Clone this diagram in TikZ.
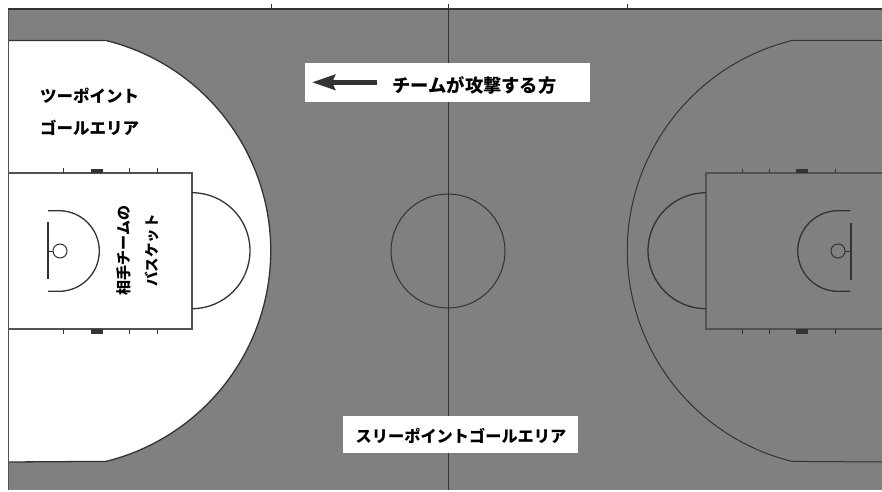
\documentclass[tikz,border=0pt]{standalone}
\usepackage{fontspec}
\usetikzlibrary{arrows.meta}
\newfontfamily\jpfont{Noto Sans CJK JP}
\definecolor{courtgrey}{HTML}{808080}
\definecolor{courtline}{HTML}{333333}
\tikzset{
  line/.style={draw=courtline,line width=1pt},
  arcline/.style={draw=courtline,line width=1.3pt},
  keyline/.style={draw=courtline!85!white,line width=1.4pt},
  thickline/.style={draw=courtline,line width=2pt},
  label/.style={inner sep=0pt,font=\jpfont\bfseries\fontsize{#1}{#1}\selectfont,text=black},
  whitebox/.style={fill=white,draw=none}
}
\begin{document}
\begin{tikzpicture}[x=1pt,y=1pt]
\useasboundingbox (0,0) rectangle (882,491);
\fill[white] (0,0) rectangle (882,491);
\fill[courtgrey] (8.5,1) rectangle (882,481.5);
% two point area
\fill[white] (8.5,450.5)--(106,450.5) arc[start angle=76.1,end angle=-76.1,radius=216.8pt]--(8.5,29)--cycle;
\draw[arcline] (8.5,450.5)--(106,450.5) arc[start angle=76.1,end angle=-76.1,radius=216.8pt]--(8.5,29);
\draw[line] (882,450.5)--(792,450.5) arc[start angle=103.9,end angle=256.1,radius=216.8pt]--(882,29);
% outer lines
\draw[keyline] (8.5,1)--(8.5,481.5);
\draw[thickline] (7.5,481.5)--(882,481.5);
\draw[line] (271,481.5)--(271,487);
\draw[line] (627,481.5)--(627,487);
\draw[line] (448,1)--(448,487);
\draw[line] (448,240) circle[radius=57pt];
% left key
\draw[keyline,fill=white] (9,318)--(192,318)--(192,162)--(9,162);
\draw[arcline] (192,298.3) arc[start angle=90,end angle=-90,radius=58pt];
\draw[arcline] (48,280.3)--(59,280.3) arc[start angle=90,end angle=-90,radius=40.3pt]--(48,199.7);
\draw[thickline] (47.5,269)--(47.5,212);
\draw[line] (47.5,240)--(53,240);
\draw[line] (60,240) circle[radius=7pt];
\draw[line] (63,318)--(63,323);
\draw[line] (129,318)--(129,323);
\draw[line] (157,318)--(157,323);
\draw[line] (63,162)--(63,157);
\draw[line] (129,162)--(129,157);
\draw[line] (157,162)--(157,157);
\fill[courtline] (91,318) rectangle (103,322.5);
\fill[courtline] (91,162) rectangle (103,157.5);
% right key
\draw[keyline] (882,318)--(706,318)--(706,162)--(882,162);
\draw[arcline] (706,298.3) arc[start angle=90,end angle=270,radius=58pt];
\draw[arcline] (850,280.3)--(838,280.3) arc[start angle=90,end angle=270,radius=40.3pt]--(850,199.7);
\draw[thickline] (851,268.5)--(851,211.5);
\draw[line] (851,240)--(845,240);
\draw[line] (838,240) circle[radius=7pt];
\draw[line] (742,318)--(742,322.5);
\draw[line] (769,318)--(769,322.5);
\draw[line] (835,318)--(835,322.5);
\draw[line] (742,162)--(742,157.5);
\draw[line] (769,162)--(769,157.5);
\draw[line] (835,162)--(835,157.5);
\fill[courtline] (796,318) rectangle (808,322.5);
\fill[courtline] (796,162) rectangle (808,157.5);
% labels
\fill[whitebox] (305,389.3) rectangle (590,428.3);
\fill[whitebox] (343,38) rectangle (578,75);
\coordinate (arrowstart) at (377,408.7);
\coordinate (arrowend) at (312,408.7);
\draw[-{Stealth[length=23pt,width=15pt,inset=3pt]},draw=courtline,line width=5pt] (arrowstart)--(arrowend);
\node[label=18.3] (attack) at (474.5,406) {チームが攻撃する方};
\node[label=16.2] (three) at (461,55) {スリーポイントゴールエリア};
\node[label=16.5] (twoa) at (89.5,395) {ツーポイント};
\node[label=16.5] (twob) at (89.5,363) {ゴールエリア};
\node[label=15,rotate=90] (basketa) at (124,240.5) {相手チームの};
\node[label=14.5,rotate=90] (basketb) at (152,240.5) {バスケット};
\end{tikzpicture}
\end{document}
